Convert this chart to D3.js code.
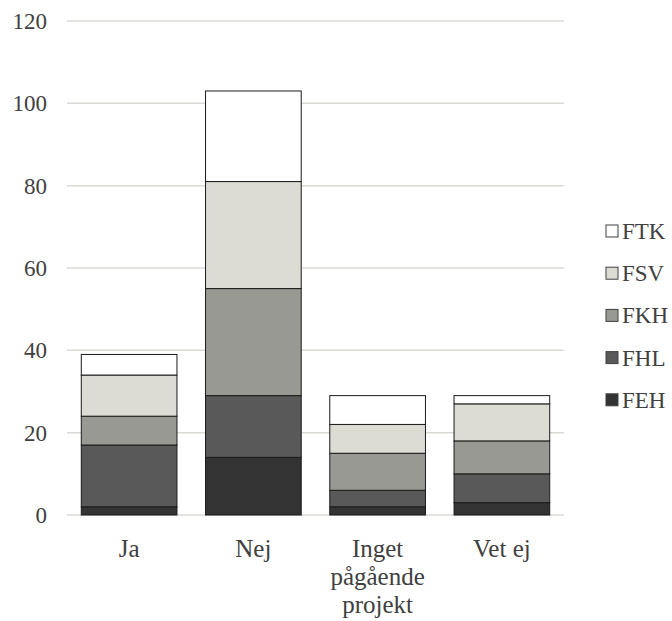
<!DOCTYPE html>
<html>
<head>
<meta charset="utf-8">
<script src="https://cdn.jsdelivr.net/npm/d3@7"></script>
<style>
  html, body { margin: 0; padding: 0; background: #fff; }
  svg { display: block; }
</style>
</head>
<body>
<svg id="chart" width="672" height="621"></svg>
<script>
const categories = ["Ja", "Nej", "Inget pågående projekt", "Vet ej"];
const categoryLines = [["Ja"], ["Nej"], ["Inget", "pågående", "projekt"], ["Vet ej"]];
const seriesNames = ["FEH", "FHL", "FKH", "FSV", "FTK"];
const FEH = [2, 14, 2, 3];
const FHL = [15, 15, 4, 7];
const FKH = [7, 26, 9, 8];
const FSV = [10, 26, 7, 9];
const FTK = [5, 22, 7, 2];
const yTicks = [0, 20, 40, 60, 80, 100, 120];
const colors = ["#333333", "#595959", "#999994", "#dcdcd5", "#ffffff"];

const FONT = "'Liberation Serif', Tinos, 'Times New Roman', serif";
const seriesValues = [FEH, FHL, FKH, FSV, FTK];
const rows = categories.map((c, i) => {
  const r = { cat: c };
  seriesNames.forEach((s, k) => r[s] = seriesValues[k][i]);
  return r;
});

const svg = d3.select("#chart");
const margin = { left: 67, right: 564, top: 21, bottom: 515 };

const x = d3.scaleBand().domain(categories).range([margin.left, margin.right]).paddingInner(0.23).paddingOuter(0.115);
const y = d3.scaleLinear().domain([0, 120]).range([margin.bottom, margin.top]);

// gridlines
svg.append("g").selectAll("line").data(yTicks).join("line")
  .attr("x1", margin.left).attr("x2", margin.right)
  .attr("y1", d => y(d)).attr("y2", d => y(d))
  .attr("stroke", "#dadad4").attr("stroke-width", 1.5);

// y axis labels
const yAxis = d3.axisLeft(y).tickValues(yTicks).tickSize(0).tickPadding(20);
const yg = svg.append("g").attr("transform", `translate(${margin.left},0)`).call(yAxis);
yg.select(".domain").remove();
yg.attr("font-family", null).attr("font-size", null);
yg.selectAll("text").style("font-family", FONT).style("font-size", "23px").style("fill", "#404040");

// stacked bars
const stack = d3.stack().keys(seriesNames)(rows);
svg.append("g").selectAll("g").data(stack).join("g")
  .attr("fill", (d, i) => colors[i])
  .selectAll("rect").data(d => d).join("rect")
  .attr("x", d => x(d.data.cat))
  .attr("width", x.bandwidth())
  .attr("y", d => y(d[1]))
  .attr("height", d => y(d[0]) - y(d[1]))
  .attr("stroke", "#1a1a1a").attr("stroke-width", 1);

// x axis labels
const xg = svg.append("g");
categories.forEach((c, i) => {
  const t = xg.append("text")
    .attr("x", x(c) + x.bandwidth() / 2)
    .attr("y", 556.5)
    .attr("text-anchor", "middle")
    .style("font-family", FONT).style("font-size", "25px").style("fill", "#404040");
  categoryLines[i].forEach((ln, j) => {
    t.append("tspan").attr("x", x(c) + x.bandwidth() / 2).attr("dy", j === 0 ? 0 : 28.3).text(ln);
  });
});

// legend
const legendOrder = seriesNames.slice().reverse();
const lg = svg.append("g");
legendOrder.forEach((s, i) => {
  const cy = 231 + i * 42.2;
  const k = seriesNames.indexOf(s);
  lg.append("rect").attr("x", 606).attr("y", cy - 6).attr("width", 12).attr("height", 12)
    .attr("fill", colors[k]).attr("stroke", "#404040").attr("stroke-width", 1);
  lg.append("text").attr("x", 622).attr("y", cy).attr("dy", "0.35em")
    .style("font-family", FONT).style("font-size", "23px").style("fill", "#404040").text(s);
});
</script>
</body>
</html>
